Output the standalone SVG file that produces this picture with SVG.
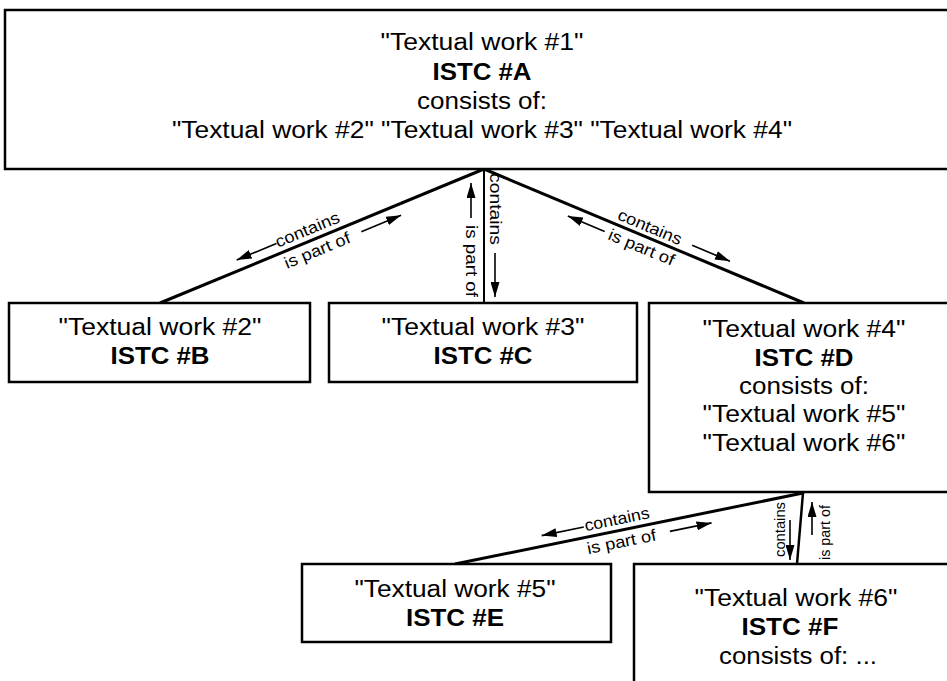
<svg xmlns="http://www.w3.org/2000/svg" width="947" height="681" viewBox="0 0 947 681">
<style>
.box{fill:#fff;stroke:#000;stroke-width:2.5}
.t{font-family:"Liberation Sans",Arial,sans-serif;font-size:23px;text-anchor:middle;fill:#000}
.b{font-weight:bold}
.conn{stroke:#000;stroke-width:3;fill:none}
.thin{stroke-width:2}
.arr{stroke:#000;stroke-width:1.6;fill:none;marker-end:url(#ah)}
.lbl{font-family:"Liberation Sans",Arial,sans-serif;font-size:16.5px;fill:#000}
.lbs{font-size:15.5px}
</style>
<defs>
<marker id="ah" markerUnits="userSpaceOnUse" markerWidth="16" markerHeight="9" refX="15" refY="4.5" orient="auto">
<path d="M0,0 L15,4.5 L0,9 z" fill="#000"/>
</marker>
</defs>
<rect width="947" height="681" fill="#fff"/>
<g id="connectors">
<line class="conn" x1="484" y1="169" x2="160" y2="303"/>
<line class="conn thin" x1="484" y1="169" x2="484" y2="303"/>
<line class="conn" x1="484" y1="169" x2="804" y2="303"/>
<line class="conn" x1="803" y1="493" x2="455" y2="564"/>
<line class="conn" x1="803" y1="493" x2="797" y2="564" style="stroke-width:2.5"/>
<g transform="translate(322,236) rotate(-22.47)">
<text class="lbl" x="-45" y="-6" textLength="68" lengthAdjust="spacingAndGlyphs">contains</text>
<line class="arr" x1="-45" y1="-10.5" x2="-88" y2="-10.5"/>
<text class="lbl" x="-45" y="17" textLength="70" lengthAdjust="spacingAndGlyphs">is part of</text>
<line class="arr" x1="38" y1="11" x2="81" y2="11"/>
</g>
<g transform="translate(484,236) rotate(90)">
<text class="lbl" x="-63" y="-5.5" textLength="72" lengthAdjust="spacingAndGlyphs">contains</text>
<line class="arr" x1="17" y1="-11" x2="61" y2="-11"/>
<text class="lbl" x="-11" y="18" textLength="72" lengthAdjust="spacingAndGlyphs">is part of</text>
<line class="arr" x1="-18" y1="13" x2="-53" y2="13"/>
</g>
<g transform="translate(644,236) rotate(22.72)">
<text class="lbl" x="-32" y="-5" textLength="68" lengthAdjust="spacingAndGlyphs">contains</text>
<line class="arr" x1="48" y1="-10" x2="89" y2="-10"/>
<text class="lbl" x="-33" y="17" textLength="70" lengthAdjust="spacingAndGlyphs">is part of</text>
<line class="arr" x1="-38" y1="11" x2="-78" y2="11"/>
</g>
<g transform="translate(629,528.5) rotate(-11.53)">
<text class="lbl" x="-43" y="-6" textLength="66" lengthAdjust="spacingAndGlyphs">contains</text>
<line class="arr" x1="-44" y1="-10.5" x2="-87" y2="-10.5"/>
<text class="lbl" x="-45" y="17" textLength="70" lengthAdjust="spacingAndGlyphs">is part of</text>
<line class="arr" x1="39.5" y1="11" x2="82" y2="11"/>
</g>
<text class="lbl lbs" transform="translate(785,557) rotate(-90)" textLength="55" lengthAdjust="spacingAndGlyphs">contains</text>
<text class="lbl lbs" transform="translate(830,560) rotate(-90)" textLength="55" lengthAdjust="spacingAndGlyphs">is part of</text>
<line class="arr" x1="790" y1="520" x2="790" y2="560"/>
<line class="arr" x1="812" y1="535" x2="812" y2="502"/>
</g>
<g id="nodeA">
<rect class="box" x="5" y="10" width="960" height="159"/>
<text class="t" x="482" y="50" textLength="203" lengthAdjust="spacingAndGlyphs">"Textual work #1"</text>
<text class="t b" x="482" y="80" textLength="99" lengthAdjust="spacingAndGlyphs">ISTC #A</text>
<text class="t" x="482" y="109" textLength="130" lengthAdjust="spacingAndGlyphs">consists of:</text>
<text class="t" x="482" y="138" textLength="620" lengthAdjust="spacingAndGlyphs">"Textual work #2" "Textual work #3" "Textual work #4"</text>
</g>
<g id="nodeB">
<rect class="box" x="9" y="303" width="301" height="79"/>
<text class="t" x="160" y="335" textLength="203" lengthAdjust="spacingAndGlyphs">"Textual work #2"</text>
<text class="t b" x="160" y="364" textLength="99" lengthAdjust="spacingAndGlyphs">ISTC #B</text>
</g>
<g id="nodeC">
<rect class="box" x="329" y="303" width="308" height="79"/>
<text class="t" x="483" y="335" textLength="203" lengthAdjust="spacingAndGlyphs">"Textual work #3"</text>
<text class="t b" x="483" y="364" textLength="99" lengthAdjust="spacingAndGlyphs">ISTC #C</text>
</g>
<g id="nodeD">
<rect class="box" x="649" y="303" width="320" height="189"/>
<text class="t" x="804" y="337" textLength="203" lengthAdjust="spacingAndGlyphs">"Textual work #4"</text>
<text class="t b" x="804" y="366" textLength="99" lengthAdjust="spacingAndGlyphs">ISTC #D</text>
<text class="t" x="804" y="394" textLength="130" lengthAdjust="spacingAndGlyphs">consists of:</text>
<text class="t" x="804" y="422" textLength="203" lengthAdjust="spacingAndGlyphs">"Textual work #5"</text>
<text class="t" x="804" y="451" textLength="203" lengthAdjust="spacingAndGlyphs">"Textual work #6"</text>
</g>
<g id="nodeE">
<rect class="box" x="302" y="564" width="309" height="78"/>
<text class="t" x="455" y="597" textLength="201" lengthAdjust="spacingAndGlyphs">"Textual work #5"</text>
<text class="t b" x="455" y="626" textLength="98" lengthAdjust="spacingAndGlyphs">ISTC #E</text>
</g>
<g id="nodeF">
<rect class="box" x="634" y="564" width="330" height="140"/>
<text class="t" x="796" y="606" textLength="203" lengthAdjust="spacingAndGlyphs">"Textual work #6"</text>
<text class="t b" x="790" y="635" textLength="97" lengthAdjust="spacingAndGlyphs">ISTC #F</text>
<text class="t" x="798" y="664" textLength="158" lengthAdjust="spacingAndGlyphs">consists of: ...</text>
</g>
</svg>
